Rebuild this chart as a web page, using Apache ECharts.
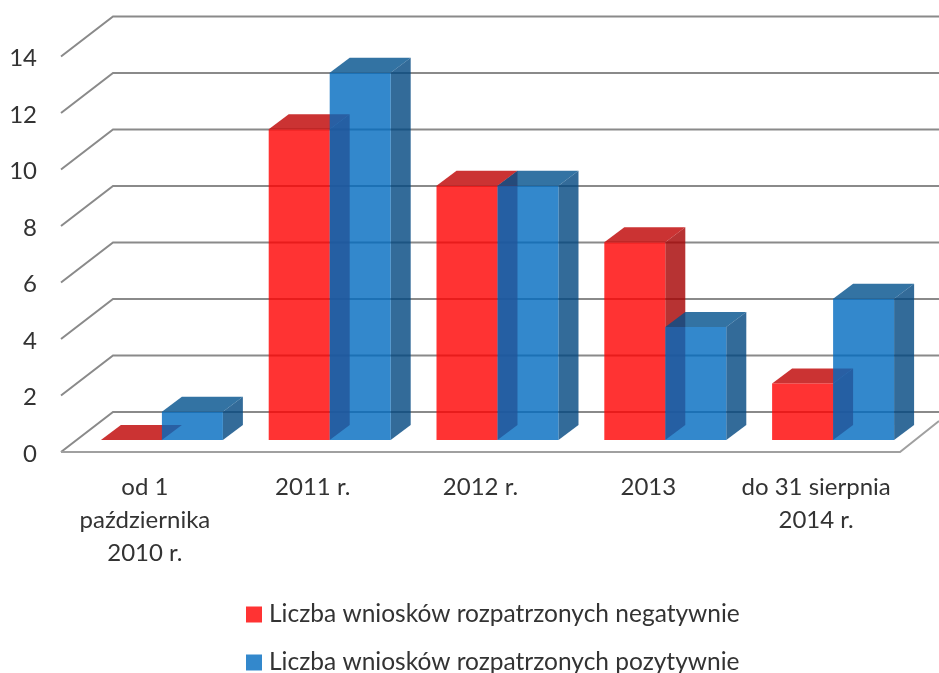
<!DOCTYPE html>
<html><head><meta charset="utf-8">
<style>html,body{margin:0;padding:0;background:#fff;overflow:hidden}#c{width:939px;height:673px}</style>
<script src="https://cdn.jsdelivr.net/npm/echarts@6/dist/echarts.min.js"></script>
</head><body><div id="c"></div>
<script>
const categories = ['od 1\npaździernika\n2010 r.', '2011 r.', '2012 r.', '2013', 'do 31 sierpnia\n2014 r.'];
const negatywne = [0, 11, 9, 7, 2];
const pozytywne = [1, 13, 9, 4, 5];
const yTicks = [0, 2, 4, 6, 8, 10, 12, 14];
const nameNeg = 'Liczba wniosków rozpatrzonych negatywnie';
const namePoz = 'Liczba wniosków rozpatrzonych pozytywnie';
const FONT = 'Lato';
const TEXT = '#333333';
const WALL_DX = 52, WALL_DY = -40, RIGHT_EXTRA = 39;
const BAR_DX = 20, BAR_DY = -15, BAR_LIFT = -12, BAR_SHIFT = 17;

function barRender(side, colors) {
  return function (params, api) {
    const cat = api.value(0), val = api.value(1);
    const base = api.coord([cat, 0]), top = api.coord([cat, val]);
    const w = api.size([1, 0])[0] * 0.3635;
    const xc = base[0] + BAR_SHIFT;
    const x0 = side < 0 ? xc - w : xc, x1 = x0 + w;
    const yb = base[1] + BAR_LIFT, yt = top[1] + BAR_LIFT;
    const poly = (pts, fill) => ({ type: 'polygon', shape: { points: pts }, style: { fill: fill }, silent: true });
    const children = [];
    if (val > 0) {
      children.push(poly([[x1, yt], [x1 + BAR_DX, yt + BAR_DY], [x1 + BAR_DX, yb + BAR_DY], [x1, yb]], colors.side));
    }
    children.push(poly([[x0, yt], [x1, yt], [x1 + BAR_DX, yt + BAR_DY], [x0 + BAR_DX, yt + BAR_DY]], colors.top));
    if (val > 0) {
      children.push(poly([[x0, yt], [x1, yt], [x1, yb], [x0, yb]], colors.front));
    }
    return { type: 'group', children: children };
  };
}

function wallRender(params, api) {
  const v = api.value(1);
  const p = api.coord([0, v]);
  const cs = params.coordSys;
  const right = cs.x + cs.width + RIGHT_EXTRA;
  const line = { stroke: '#8a8a8a', lineWidth: 2, fill: null };
  const children = [{
    type: 'polyline',
    shape: { points: [[cs.x, p[1]], [cs.x + WALL_DX, p[1] + WALL_DY], [right, p[1] + WALL_DY]] },
    style: line, silent: true
  }];
  if (v === 0) {
    children.push({
      type: 'polyline',
      shape: { points: [[cs.x, p[1]], [cs.x + cs.width, p[1]], [cs.x + cs.width + RIGHT_EXTRA, p[1] - 31]] },
      style: { stroke: '#a0a0a0', lineWidth: 2, fill: null }, silent: true
    });
  }
  return { type: 'group', children: children };
}

function legendAt(top, name, color) {
  return {
    orient: 'vertical', left: 246, top: top, padding: 0, itemWidth: 16, itemHeight: 16,
    icon: 'rect', selectedMode: false,
    textStyle: { fontFamily: FONT, fontSize: 24.5, color: TEXT, padding: [0, 0, 0, 2] },
    data: [{ name: name, itemStyle: { color: color } }]
  };
}

const chart = echarts.init(document.getElementById('c'), null, { renderer: 'canvas' });
chart.setOption({
  animation: false,
  backgroundColor: '#ffffff',
  textStyle: { fontFamily: FONT },
  grid: { left: 61, right: 39, top: 56.5, bottom: 221, containLabel: false },
  xAxis: {
    type: 'category', data: categories,
    axisLine: { show: false }, axisTick: { show: false }, splitLine: { show: false },
    axisLabel: { interval: 0, margin: 19, fontFamily: FONT, fontSize: 24, lineHeight: 33, color: TEXT, hideOverlap: false }
  },
  yAxis: {
    type: 'value', min: 0, max: 14, interval: 2,
    axisLine: { show: false }, axisTick: { show: false }, splitLine: { show: false },
    axisLabel: {
      margin: 24, fontFamily: FONT, fontSize: 24, color: TEXT,
      formatter: '{a|{value}}',
      rich: { a: { fontFamily: FONT, fontSize: 24, color: TEXT, padding: [4, 0, 0, 0] } }
    }
  },
  legend: [legendAt(602, nameNeg, '#ff3333'), legendAt(650, namePoz, '#3388cc')],
  series: [
    { name: 'wall', type: 'custom', renderItem: wallRender, clip: false, silent: true, z: 1,
      encode: { x: 0, y: 1 }, data: yTicks.map(v => [0, v]) },
    { name: nameNeg, type: 'custom', clip: false, silent: true, z: 2, itemStyle: { color: '#ff3333' },
      renderItem: barRender(-1, { front: 'rgba(255,0,0,0.8)', top: 'rgba(190,0,0,0.8)', side: 'rgba(165,0,0,0.8)' }),
      encode: { x: 0, y: 1 }, data: negatywne.map((v, i) => [i, v]) },
    { name: namePoz, type: 'custom', clip: false, silent: true, z: 3, itemStyle: { color: '#3388cc' },
      renderItem: barRender(1, { front: 'rgba(0,106,191,0.8)', top: 'rgba(0,80,140,0.8)', side: 'rgba(0,70,128,0.8)' }),
      encode: { x: 0, y: 1 }, data: pozytywne.map((v, i) => [i, v]) }
  ]
});
</script></body></html>
